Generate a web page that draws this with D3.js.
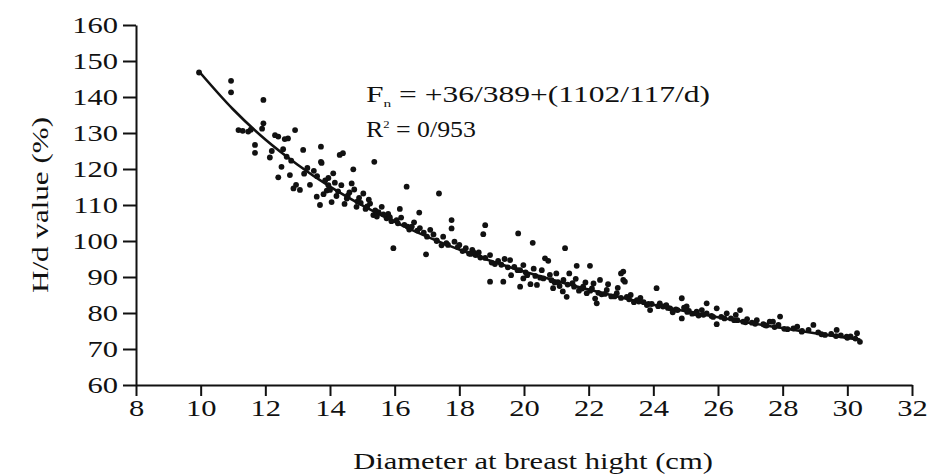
<!DOCTYPE html>
<html>
<head>
<meta charset="utf-8">
<script src="https://cdn.jsdelivr.net/npm/d3@7"></script>
<style>
  body { margin: 0; background: #ffffff; }
  text { font-family: "Liberation Serif", "Times New Roman", serif; fill: #111; }
</style>
</head>
<body>
<div id="chart"></div>
<script>
var xTicks = [8, 10, 12, 14, 16, 18, 20, 22, 24, 26, 28, 30, 32]
var yTicks = [60, 70, 80, 90, 100, 110, 120, 130, 140, 150, 160]

// fitted curve
var curveDiameter = [9.95, 11, 12, 13, 14, 15, 16, 17, 18, 19, 20, 21, 22, 23, 24, 25, 26, 27, 28, 29, 30, 30.4]
var curveValue = [147.1, 136.6, 128.2, 121.2, 115.1, 109.9, 105.3, 101.2, 97.6, 94.4, 91.5, 88.9, 86.5, 84.3, 82.3, 80.5, 78.8, 77.2, 75.8, 74.4, 73.1, 72.6]

// measured trees [diameter, H/d]
var trees = [
  [9.95,146.8],[10.94,144.5],[10.94,141.3],[11.94,139.2],[11.94,132.7],[11.17,130.8],[11.3,130.6],[11.47,130.4],[11.55,130.9],[11.68,126.7],[11.68,124.5],[11.9,131.2],
  [12.14,123.2],[12.3,129.4],[12.4,129.0],[12.6,128.3],[12.7,128.5],[12.92,130.8],[12.5,120.6],[12.66,123.4],[12.76,118.3],[12.4,117.7],[12.87,114.6],[12.95,115.6],[12.2,125.0],[12.55,125.5],[12.8,122.3],
  [13.07,114.2],[13.17,125.3],[13.38,115.6],[13.59,112.3],[13.69,110.0],[13.72,126.2],[13.72,122.0],[13.74,121.7],[13.5,119.5],[13.3,120.3],[13.85,116.8],[13.9,114.0],[13.95,117.5],[13.8,113.0],[13.6,118.0],[13.2,118.7],
  [14.0,114.2],[14.1,118.8],[14.3,123.9],[14.4,124.4],[14.52,111.8],[14.67,116.0],[14.72,119.9],[14.82,109.5],[14.2,112.5],[14.35,115.5],[14.6,113.5],[14.9,112.0],[14.45,110.3],[14.15,116.2],[14.75,114.3],[14.05,110.8],[14.95,110.6],
  [15.03,113.2],[15.24,110.4],[15.34,107.2],[15.37,122.0],[15.75,106.3],[15.1,108.9],[15.5,108.0],[15.6,109.5],[15.8,107.5],[15.96,98.0],[15.2,111.5],[15.45,106.8],[15.9,105.5],
  [16.06,105.8],[16.16,108.9],[16.37,115.1],[16.53,104.0],[16.76,107.9],[16.78,103.6],[16.97,96.3],[16.3,104.5],[16.6,105.2],[16.9,102.3],[16.2,106.5],[16.45,103.2],
  [17.1,103.1],[17.37,113.2],[17.5,101.2],[17.6,99.4],[17.76,105.8],[17.76,103.5],[17.3,100.2],[17.45,98.8],[17.85,99.8],[17.2,101.8],[17.95,98.3],
  [18.0,98.9],[18.4,97.5],[18.5,96.1],[18.43,97.0],[18.74,101.9],[18.8,104.4],[18.95,88.7],[18.95,96.1],[18.2,98.0],[18.6,96.8],[18.8,95.3],[18.3,96.5],
  [19.36,88.7],[19.57,94.7],[19.82,102.1],[19.88,91.9],[19.88,87.3],[19.98,93.3],[19.98,89.6],[19.2,94.5],[19.4,95.0],[19.7,92.8],[19.1,93.6],[19.6,90.5],
  [20.27,99.5],[20.4,87.8],[20.55,91.9],[20.65,95.2],[20.75,94.5],[20.9,86.9],[20.1,90.5],[20.2,88.0],[20.5,89.8],[20.8,90.6],[20.3,92.3],[20.95,88.5],
  [21.0,91.0],[21.22,89.2],[21.27,98.0],[21.32,84.5],[21.4,91.0],[21.63,93.1],[21.83,87.3],[21.94,85.5],[21.1,87.5],[21.5,88.3],[21.7,86.2],[21.2,86.0],[21.6,89.5],[21.9,88.5],
  [22.04,93.1],[22.25,82.7],[22.35,89.2],[22.56,86.4],[22.87,85.5],[22.1,86.8],[22.4,85.2],[22.7,84.6],[22.2,84.0],[22.9,87.0],[22.6,88.0],[22.15,88.2],
  [23.07,91.5],[23.07,89.2],[23.0,91.0],[23.12,88.7],[23.18,84.5],[23.49,83.6],[23.8,82.2],[23.9,80.8],[23.3,85.0],[23.6,84.2],[23.4,83.0],[23.7,83.0],[23.95,82.5],
  [24.1,86.9],[24.2,82.7],[24.52,81.3],[24.88,84.1],[24.88,78.5],[24.3,81.8],[24.7,81.0],[24.4,82.2],[24.6,80.2],[24.95,81.5],
  [25.03,81.8],[25.34,80.4],[25.65,79.9],[25.65,82.7],[25.96,81.3],[25.96,76.9],[25.2,79.8],[25.5,80.8],[25.8,79.2],[25.1,80.6],[25.4,79.3],
  [26.27,79.9],[26.68,80.8],[26.78,77.6],[26.4,78.5],[26.55,79.5],[26.1,78.9],[26.9,78.3],[26.6,78.0],
  [27.2,78.0],[27.6,77.6],[27.87,76.7],[27.92,79.0],[27.7,77.6],[27.4,76.9],[27.05,77.3],[27.5,76.5],
  [28.33,75.7],[28.59,74.8],[28.95,76.7],[29.31,73.9],[29.67,75.3],[29.98,73.4],[30.39,72.0],[30.3,74.4],[28.15,75.5],[28.8,75.3],[29.1,74.6],[29.5,74.2],[29.8,73.8],[30.1,73.5],[28.45,76.2],
  // trees lying on the fitted band
  [13.95,115.5],[14.25,113.8],[14.55,112.6],[14.85,111.0],[15.15,109.6],[15.4,108.5],[15.65,107.4],[15.85,106.6],
  [16.1,104.9],[16.4,104.0],[16.7,102.9],[17.0,101.2],[17.3,100.0],[17.65,98.9],[18.1,97.2],[18.35,96.4],[18.65,95.4],[19.0,94.0],[19.3,93.4],[19.5,92.7],[19.8,91.9],[20.05,91.3],
  [20.35,90.3],[20.6,89.6],[20.85,89.1],[21.05,88.6],[21.35,87.9],[21.55,87.3],[21.8,86.8],[22.05,86.2],[22.3,85.6],[22.5,85.3],[22.8,84.6],[23.0,84.2],[23.25,83.8],[23.55,83.2],[23.85,82.5],
  [24.15,81.9],[24.45,81.4],[24.75,80.8],[25.05,80.3],[25.3,79.9],[25.55,79.5],[25.85,78.9],[26.2,78.5],[26.5,78.0],[26.85,77.4],[27.15,77.0],[27.45,76.6],[27.75,76.1],[28.05,75.6],[28.6,75.0],[29.2,74.1],[29.65,73.6],[30.0,73.1],[30.25,72.9]
]

var equationText = "= +36/389+(1102/117/d)"
var r2Text = " = 0/953"

;(function () {
  var width = 943,
    height = 476,
    stretch = 1.3

  var svg = d3.select("#chart")
    .append("svg")
    .attr("width", width)
    .attr("height", height)

  var x = d3.scaleLinear().domain([8, 32]).range([136, 912])
  var y = d3.scaleLinear().domain([60, 160]).range([385, 25])

  // the source picture is squeezed sideways, so text is widened to match
  function widen(sel) {
    sel.each(function () {
      var t = d3.select(this)
      t.attr("textLength", this.getComputedTextLength() * stretch)
        .attr("lengthAdjust", "spacingAndGlyphs")
    })
  }

  var xAxis = svg.append("g")
    .attr("transform", "translate(0," + y(60) + ")")
    .call(d3.axisBottom(x).tickValues(xTicks).tickSize(11).tickSizeOuter(0).tickPadding(3).tickFormat(d3.format("d")))

  var yAxis = svg.append("g")
    .attr("transform", "translate(" + x(8) + ",0)")
    .call(d3.axisLeft(y).tickValues(yTicks).tickSize(13).tickSizeOuter(0).tickPadding(5).tickFormat(d3.format("d")))

  svg.selectAll(".domain, .tick line")
    .attr("stroke", "#111")
    .attr("stroke-width", 2)

  svg.selectAll(".tick text")
    .style("font-size", "23.5px")
    .style("font-family", '"Liberation Serif", serif')
    .attr("fill", "#111")
    .call(widen)

  var line = d3.line()
    .x(function (d, i) { return x(curveDiameter[i]) })
    .y(function (d) { return y(d) })
    .curve(d3.curveMonotoneX)

  svg.append("path")
    .datum(curveValue)
    .attr("d", line)
    .attr("fill", "none")
    .attr("stroke", "#111")
    .attr("stroke-width", 2.6)

  svg.selectAll(".tree")
    .data(trees)
    .enter().append("circle")
    .attr("class", "tree")
    .attr("cx", function (d) { return x(d[0]) })
    .attr("cy", function (d) { return y(d[1]) })
    .attr("r", 2.9)
    .attr("fill", "#111")

  var eq = svg.append("text")
    .attr("x", 366)
    .attr("y", 102)
    .attr("textLength", 344)
    .attr("lengthAdjust", "spacingAndGlyphs")
    .style("font-size", "22.5px")
  eq.append("tspan").text("F")
  eq.append("tspan").attr("dy", 5).style("font-size", "11px").text("n")
  eq.append("tspan").attr("dy", -5).text(" " + equationText)

  var r2 = svg.append("text")
    .attr("x", 366)
    .attr("y", 137)
    .attr("textLength", 110)
    .attr("lengthAdjust", "spacingAndGlyphs")
    .style("font-size", "22.5px")
  r2.append("tspan").text("R")
  r2.append("tspan").attr("dy", -9).style("font-size", "11px").text("2")
  r2.append("tspan").attr("dy", 9).text(r2Text)

  svg.append("text")
    .attr("x", 533)
    .attr("y", 469)
    .attr("text-anchor", "middle")
    .style("font-size", "23.5px")
    .text("Diameter at breast hight (cm)")
    .call(widen)

  svg.append("text")
    .attr("transform", "translate(48,205) rotate(-90)")
    .attr("text-anchor", "middle")
    .style("font-size", "23.5px")
    .text("H/d value (%)")
    .attr("textLength", 176)
    .attr("lengthAdjust", "spacingAndGlyphs")
})()
</script>
</body>
</html>
